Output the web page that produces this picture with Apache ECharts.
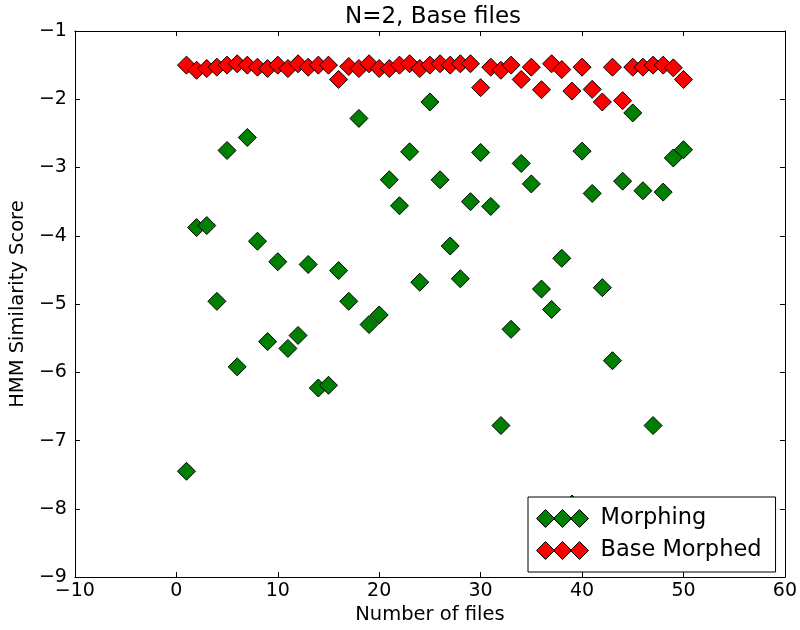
<!DOCTYPE html>
<html>
<head>
<meta charset="utf-8">
<script src="https://cdn.jsdelivr.net/npm/echarts@6/dist/echarts.min.js"></script>
<style>
  html, body { margin: 0; padding: 0; background: #ffffff; }
  #chart { width: 800px; height: 630px; }
</style>
</head>
<body>
<div id="chart"></div>
<script>
// Number of files on the x axis
const fileCounts = [
  1, 2, 3, 4, 5, 6, 7, 8, 9, 10,
  11, 12, 13, 14, 15, 16, 17, 18, 19, 20,
  21, 22, 23, 24, 25, 26, 27, 28, 29, 30,
  31, 32, 33, 34, 35, 36, 37, 38, 39, 40,
  41, 42, 43, 44, 45, 46, 47, 48, 49, 50
];

// HMM similarity score, "Morphing"
const morphingScores = [
  -7.45, -3.88, -3.85, -4.96, -2.75, -5.92, -2.56, -4.08, -5.55, -4.38,
  -5.65, -5.46, -4.42, -6.23, -6.19, -4.51, -4.96, -2.28, -5.30, -5.16,
  -3.18, -3.56, -2.77, -4.68, -2.04, -3.18, -4.15, -4.63, -3.50, -2.78,
  -3.57, -6.78, -5.37, -2.94, -3.24, -4.78, -5.08, -4.33, -7.93, -2.76,
  -3.38, -4.76, -5.83, -3.20, -2.20, -3.34, -6.78, -3.36, -2.86, -2.74
];

// HMM similarity score, "Base Morphed"
const baseMorphedScores = [
  -1.50, -1.575, -1.55, -1.53, -1.50, -1.48, -1.50, -1.53, -1.55, -1.50,
  -1.55, -1.48, -1.53, -1.50, -1.50, -1.71, -1.52, -1.55, -1.48, -1.55,
  -1.55, -1.50, -1.48, -1.55, -1.50, -1.48, -1.50, -1.48, -1.48, -1.83,
  -1.53, -1.575, -1.50, -1.71, -1.53, -1.86, -1.48, -1.565, -1.88, -1.53,
  -1.855, -2.04, -1.53, -2.02, -1.53, -1.53, -1.50, -1.50, -1.54, -1.71
];

const seriesNames = ['Morphing', 'Base Morphed'];
const xRange = { min: -10, max: 60, step: 10 };
const yRange = { min: -9, max: -1, step: 1 };

const FONT = '"DejaVu Sans", "Liberation Sans", sans-serif';
const minusSign = v => String(v).replace('-', '\u2212');

// three overlapping diamonds used as the legend key
const tripleDiamond = 'path://M0,9L9,0L18,9L9,18Z M17,9L26,0L35,9L26,18Z M34,9L43,0L52,9L43,18Z';

const pairs = ys => fileCounts.map((x, i) => [x, ys[i]]);

const frameLine = { onZero: false, lineStyle: { color: '#000', width: 1 } };
const innerTick = { show: true, inside: true, length: 5, lineStyle: { color: '#000', width: 1 } };

const chart = echarts.init(document.getElementById('chart'), null, { renderer: 'canvas' });

chart.setOption({
  backgroundColor: '#ffffff',
  animation: false,
  textStyle: { fontFamily: FONT },
  title: {
    text: 'N=2, Base files',
    left: 428,
    textAlign: 'center',
    top: 1,
    textStyle: { fontFamily: FONT, fontSize: 23, fontWeight: 'normal', color: '#000' }
  },
  grid: { left: 71, right: 15, top: 31, bottom: 47, containLabel: false },
  xAxis: [
    {
      type: 'value', position: 'bottom',
      min: xRange.min, max: xRange.max, interval: xRange.step,
      axisLine: frameLine, axisTick: innerTick, splitLine: { show: false },
      axisLabel: { color: '#000', fontSize: 19, fontFamily: FONT, margin: 4, formatter: minusSign },
      name: 'Number of files', nameLocation: 'middle', nameGap: 27,
      nameTextStyle: { color: '#000', fontSize: 19.5, fontFamily: FONT }
    },
    {
      type: 'value', position: 'top',
      min: xRange.min, max: xRange.max, interval: xRange.step,
      axisLine: frameLine, axisTick: innerTick, splitLine: { show: false },
      axisLabel: { show: false }
    }
  ],
  yAxis: [
    {
      type: 'value', position: 'left',
      min: yRange.min, max: yRange.max, interval: yRange.step,
      axisLine: frameLine, axisTick: innerTick, splitLine: { show: false },
      axisLabel: { color: '#000', fontSize: 19, fontFamily: FONT, margin: 8, formatter: minusSign },
      name: 'HMM Similarity Score', nameLocation: 'middle', nameGap: 40, nameRotate: 90,
      nameTextStyle: { color: '#000', fontSize: 19.5, fontFamily: FONT }
    },
    {
      type: 'value', position: 'right',
      min: yRange.min, max: yRange.max, interval: yRange.step,
      axisLine: frameLine, axisTick: innerTick, splitLine: { show: false },
      axisLabel: { show: false }
    }
  ],
  legend: {
    orient: 'vertical',
    left: 528,
    top: 497,
    padding: [10, 14, 10, 8],
    itemGap: 9,
    itemWidth: 52,
    itemHeight: 18,
    backgroundColor: '#ffffff',
    borderColor: '#000',
    borderWidth: 1,
    borderRadius: 0,
    icon: tripleDiamond,
    itemStyle: { borderColor: '#000', borderWidth: 1 },
    textStyle: { fontFamily: FONT, fontSize: 22.5, color: '#000', padding: [0, 0, 0, 7], lineHeight: 23 },
    data: seriesNames
  },
  series: [
    {
      name: seriesNames[0],
      type: 'scatter',
      symbol: 'diamond',
      symbolSize: 18,
      itemStyle: { color: '#008000', borderColor: '#000', borderWidth: 1, opacity: 1 },
      emphasis: { disabled: true },
      data: pairs(morphingScores)
    },
    {
      name: seriesNames[1],
      type: 'scatter',
      symbol: 'diamond',
      symbolSize: 18,
      itemStyle: { color: '#ff0000', borderColor: '#000', borderWidth: 1, opacity: 1 },
      emphasis: { disabled: true },
      data: pairs(baseMorphedScores)
    }
  ]
});
</script>
</body>
</html>
